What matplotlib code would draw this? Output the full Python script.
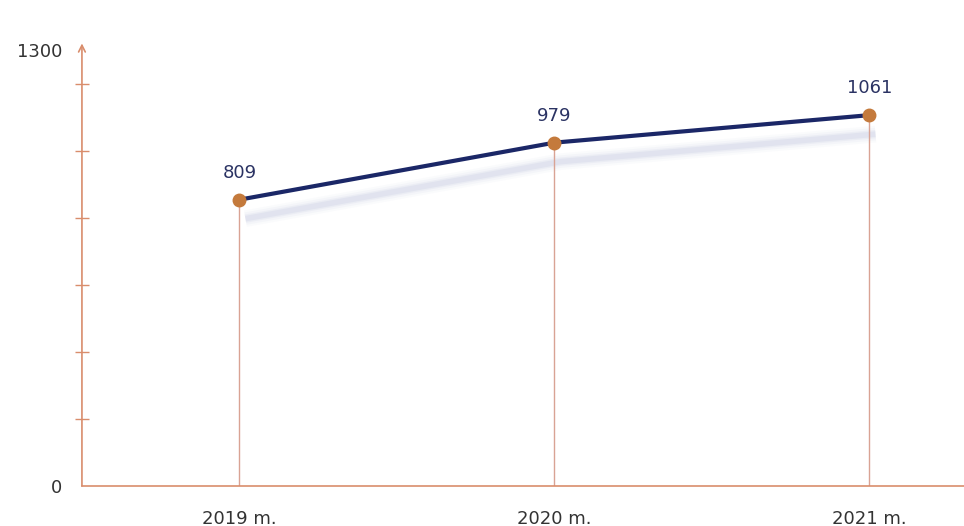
import numpy as np
from matplotlib import pyplot as plt
from matplotlib.transforms import ScaledTranslation

years = ['2019 m.', '2020 m.', '2021 m.']
values = [809, 979, 1061]
y_labels = [0, 1300]
y_minor = [200, 400, 600, 800, 1000, 1200]

navy = '#1b2767'
dot_c = '#c47a3c'
axis_c = '#d98d6c'
drop_c = '#d9a394'
text_c = '#333333'
label_c = '#2b3363'

plt.rcParams['font.family'] = ['DejaVu Sans']

fig = plt.figure(figsize=(9.64, 5.26), dpi=100)
ax = fig.add_axes([0.085, 0.076, 0.915, 0.829])
x = np.arange(len(values))
ax.set_xlim(-0.5, 2.3)
ax.set_ylim(0, 1300)

# the drawn line sits a little above its true scale, the shadow a bit below
lift = ax.transData + ScaledTranslation(0, 15 / 100, fig.dpi_scale_trans)
drop = ax.transData + ScaledTranslation(0.06, -4 / 100, fig.dpi_scale_trans)
lift_units = 15 / (ax.bbox.height / 1300)

# blurry shadow
for lw, a in [(12, 0.06), (9, 0.09), (6, 0.14), (4, 0.2)]:
    ax.plot(x, values, color='#b9bfdb', lw=lw, alpha=a, transform=drop,
            solid_capstyle='butt', zorder=1)

ax.vlines(x, 0, np.array(values) + lift_units, color=drop_c, lw=1, zorder=2)
ax.plot(x, values, color=navy, lw=3, transform=lift, zorder=3)
ax.plot(x, values, 'o', color=dot_c, ms=9, transform=lift, zorder=4)
for xi, v in zip(x, values):
    ax.annotate(str(v), (xi, v), xycoords=lift, xytext=(0, 13),
                textcoords='offset points', ha='center', va='bottom',
                fontsize=13, color=label_c)

ax.spines[['top', 'right', 'left']].set_visible(False)
ax.spines['bottom'].set_color(axis_c)
ax.spines['bottom'].set_linewidth(1.2)
ax.annotate('', xy=(0, 1.015), xytext=(0, 0), xycoords='axes fraction',
            arrowprops=dict(arrowstyle='->', color=axis_c, lw=1.2,
                            shrinkA=0, shrinkB=0, mutation_scale=12))

ax.set_yticks(y_labels)
ax.set_yticklabels([str(v) for v in y_labels], fontsize=13, color=text_c)
ax.set_yticks(y_minor, minor=True)
ax.tick_params(axis='y', which='major', length=0, pad=14)
ax.tick_params(axis='y', which='minor', direction='inout', length=10,
               color=axis_c, width=1)
ax.set_xticks(x)
ax.set_xticklabels(years, fontsize=13, color=text_c)
ax.tick_params(axis='x', length=0, pad=17)

fig.savefig('out.png', dpi=100, facecolor='white')
